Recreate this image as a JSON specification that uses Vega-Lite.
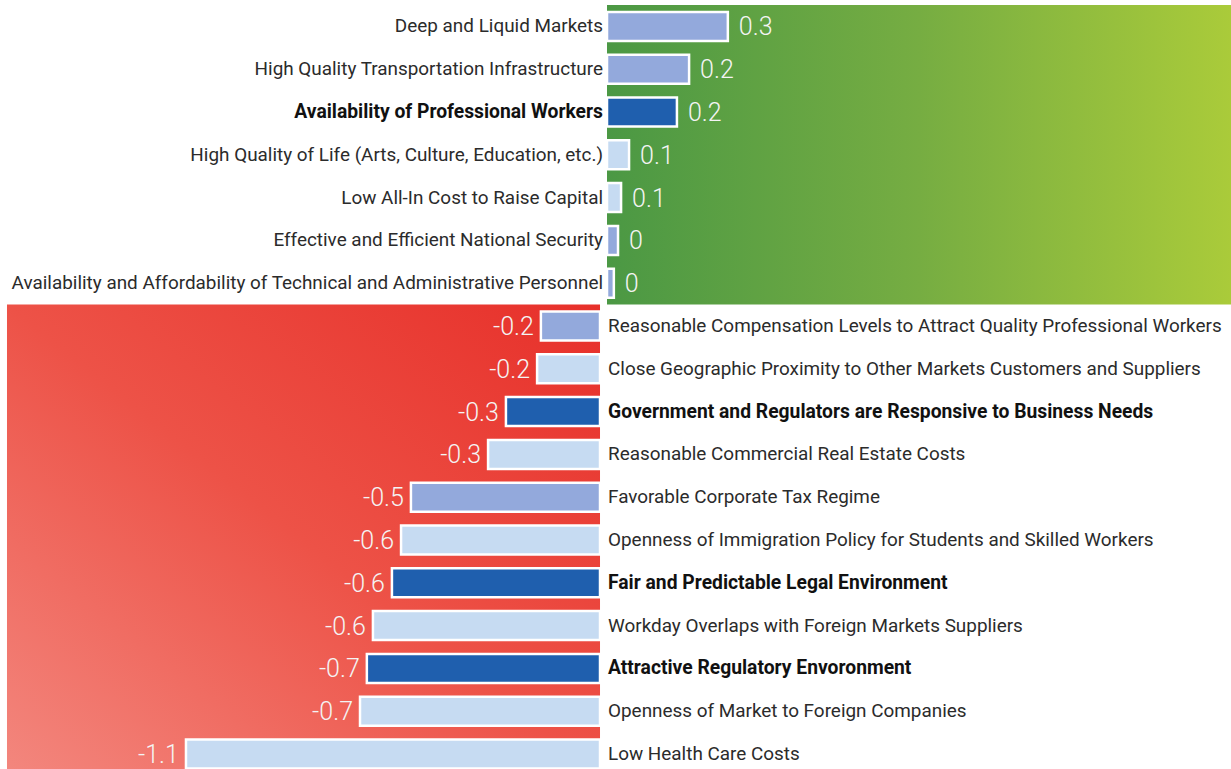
{
  "$schema": "https://vega.github.io/schema/vega-lite/v6.json",
  "width": 1231,
  "height": 769,
  "autosize": "none",
  "padding": 0,
  "background": "#ffffff",
  "config": {"view": {"stroke": null}},
  "datasets": {
    "factors": [
      {"rank": 1, "name": "Deep and Liquid Markets", "value": 0.318, "label": "0.3", "tier": "medium", "side": "pos"},
      {"rank": 2, "name": "High Quality Transportation Infrastructure", "value": 0.216, "label": "0.2", "tier": "medium", "side": "pos"},
      {"rank": 3, "name": "Availability of Professional Workers", "value": 0.184, "label": "0.2", "tier": "dark", "side": "pos"},
      {"rank": 4, "name": "High Quality of Life (Arts, Culture, Education, etc.)", "value": 0.058, "label": "0.1", "tier": "light", "side": "pos"},
      {"rank": 5, "name": "Low All-In Cost to Raise Capital", "value": 0.037, "label": "0.1", "tier": "light", "side": "pos"},
      {"rank": 6, "name": "Effective and Efficient National Security", "value": 0.029, "label": "0", "tier": "medium", "side": "pos"},
      {"rank": 7, "name": "Availability and Affordability of Technical and Administrative Personnel", "value": 0.018, "label": "0", "tier": "medium", "side": "pos"},
      {"rank": 8, "name": "Reasonable Compensation Levels to Attract Quality Professional Workers", "value": -0.174, "label": "-0.2", "tier": "medium", "side": "neg"},
      {"rank": 9, "name": "Close Geographic Proximity to Other Markets Customers and Suppliers", "value": -0.184, "label": "-0.2", "tier": "light", "side": "neg"},
      {"rank": 10, "name": "Government and Regulators are Responsive to Business Needs", "value": -0.266, "label": "-0.3", "tier": "dark", "side": "neg"},
      {"rank": 11, "name": "Reasonable Commercial Real Estate Costs", "value": -0.313, "label": "-0.3", "tier": "light", "side": "neg"},
      {"rank": 12, "name": "Favorable Corporate Tax Regime", "value": -0.516, "label": "-0.5", "tier": "medium", "side": "neg"},
      {"rank": 13, "name": "Openness of Immigration Policy for Students and Skilled Workers", "value": -0.542, "label": "-0.6", "tier": "light", "side": "neg"},
      {"rank": 14, "name": "Fair and Predictable Legal Environment", "value": -0.566, "label": "-0.6", "tier": "dark", "side": "neg"},
      {"rank": 15, "name": "Workday Overlaps with Foreign Markets Suppliers", "value": -0.616, "label": "-0.6", "tier": "light", "side": "neg"},
      {"rank": 16, "name": "Attractive Regulatory Envoronment", "value": -0.632, "label": "-0.7", "tier": "dark", "side": "neg"},
      {"rank": 17, "name": "Openness of Market to Foreign Companies", "value": -0.65, "label": "-0.7", "tier": "light", "side": "neg"},
      {"rank": 18, "name": "Low Health Care Costs", "value": -1.108, "label": "-1.1", "tier": "light", "side": "neg"}
    ],
    "zones": [
      {"zone": "pos", "from": 1, "to": 7, "start": 0, "end": 1.6421},
      {"zone": "neg", "from": 8, "to": 18, "start": -1.579, "end": -0.0184}
    ]
  },
  "encoding": {
    "y": {
      "field": "rank",
      "type": "ordinal",
      "axis": null,
      "scale": {"domain": [1,2,3,4,5,6,7,8,9,10,11,12,13,14,15,16,17,18], "range": [5, 775.4], "paddingInner": 0, "paddingOuter": 0}
    }
  },
  "layer": [
    {
      "data": {"name": "zones"},
      "transform": [{"filter": "datum.zone === 'pos'"}],
      "mark": {"type": "rect", "color": {"gradient": "linear", "x1": 0, "y1": 0, "x2": 1, "y2": 0, "stops": [{"offset": 0, "color": "#4b9844"}, {"offset": 0.5, "color": "#76ad42"}, {"offset": 1, "color": "#aacb3a"}]}},
      "encoding": {
        "x": {"field": "start", "type": "quantitative", "axis": null, "scale": {"domain": [-1.5974, 1.6421], "nice": false, "zero": false}},
        "x2": {"field": "end"},
        "y": {"field": "from", "type": "ordinal", "bandPosition": 0},
        "y2": {"field": "to", "bandPosition": 1}
      }
    },
    {
      "data": {"name": "zones"},
      "transform": [{"filter": "datum.zone === 'neg'"}],
      "mark": {"type": "rect", "color": {"gradient": "linear", "x1": 1, "y1": 0, "x2": 0, "y2": 1, "stops": [{"offset": 0, "color": "#e7302a"}, {"offset": 0.5, "color": "#ed5247"}, {"offset": 1, "color": "#f3877e"}]}},
      "encoding": {
        "x": {"field": "start", "type": "quantitative"},
        "x2": {"field": "end"},
        "y": {"field": "from", "type": "ordinal", "bandPosition": 0},
        "y2": {"field": "to", "bandPosition": 1}
      }
    },
    {
      "data": {"name": "factors"},
      "transform": [{"filter": "datum.side === 'pos'"}],
      "mark": {"type": "bar", "height": 29, "stroke": "#ffffff", "strokeWidth": 2.5},
      "encoding": {
        "x": {"field": "value", "type": "quantitative"},
        "x2": {"datum": 0},
        "color": {"field": "tier", "type": "nominal", "legend": null, "scale": {"domain": ["light", "medium", "dark"], "range": ["#c6dbf2", "#93a9dc", "#1f5fae"]}}
      }
    },
    {
      "data": {"name": "factors"},
      "transform": [{"filter": "datum.side === 'neg'"}],
      "mark": {"type": "bar", "height": 29, "stroke": "#ffffff", "strokeWidth": 2.5},
      "encoding": {
        "x": {"field": "value", "type": "quantitative"},
        "x2": {"datum": -0.0184},
        "color": {"field": "tier", "type": "nominal", "legend": null}
      }
    },
    {
      "data": {"name": "factors"},
      "transform": [{"filter": "datum.side === 'pos' && datum.tier !== 'dark'"}],
      "mark": {"type": "text", "align": "right", "baseline": "middle", "dx": -4, "font": "Roboto", "fontSize": 18.9, "color": "#2b2b2b"},
      "encoding": {"x": {"datum": 0}, "text": {"field": "name"}}
    },
    {
      "data": {"name": "factors"},
      "transform": [{"filter": "datum.side === 'pos' && datum.tier === 'dark'"}],
      "mark": {"type": "text", "align": "right", "baseline": "middle", "dx": -4, "font": "Roboto", "fontSize": 19.3, "fontWeight": "bold", "color": "#111111"},
      "encoding": {"x": {"datum": 0}, "text": {"field": "name"}}
    },
    {
      "data": {"name": "factors"},
      "transform": [{"filter": "datum.side === 'neg' && datum.tier !== 'dark'"}],
      "mark": {"type": "text", "align": "left", "baseline": "middle", "dx": 1, "font": "Roboto", "fontSize": 18.9, "color": "#2b2b2b"},
      "encoding": {"x": {"datum": 0}, "text": {"field": "name"}}
    },
    {
      "data": {"name": "factors"},
      "transform": [{"filter": "datum.side === 'neg' && datum.tier === 'dark'"}],
      "mark": {"type": "text", "align": "left", "baseline": "middle", "dx": 1, "font": "Roboto", "fontSize": 19.3, "fontWeight": "bold", "color": "#111111"},
      "encoding": {"x": {"datum": 0}, "text": {"field": "name"}}
    },
    {
      "data": {"name": "factors"},
      "transform": [{"filter": "datum.side === 'pos'"}],
      "mark": {"type": "text", "align": "left", "baseline": "middle", "dx": 11, "dy": 1, "font": "Roboto", "fontSize": 25, "fontWeight": 300, "letterSpacing": 3, "color": "#f4f4f4"},
      "encoding": {"x": {"field": "value", "type": "quantitative"}, "text": {"field": "label"}}
    },
    {
      "data": {"name": "factors"},
      "transform": [{"filter": "datum.side === 'neg'"}],
      "mark": {"type": "text", "align": "right", "baseline": "middle", "dx": -7, "dy": 1, "font": "Roboto", "fontSize": 25, "fontWeight": 300, "letterSpacing": 3, "color": "#f4f4f4"},
      "encoding": {"x": {"field": "value", "type": "quantitative"}, "text": {"field": "label"}}
    }
  ]
}
